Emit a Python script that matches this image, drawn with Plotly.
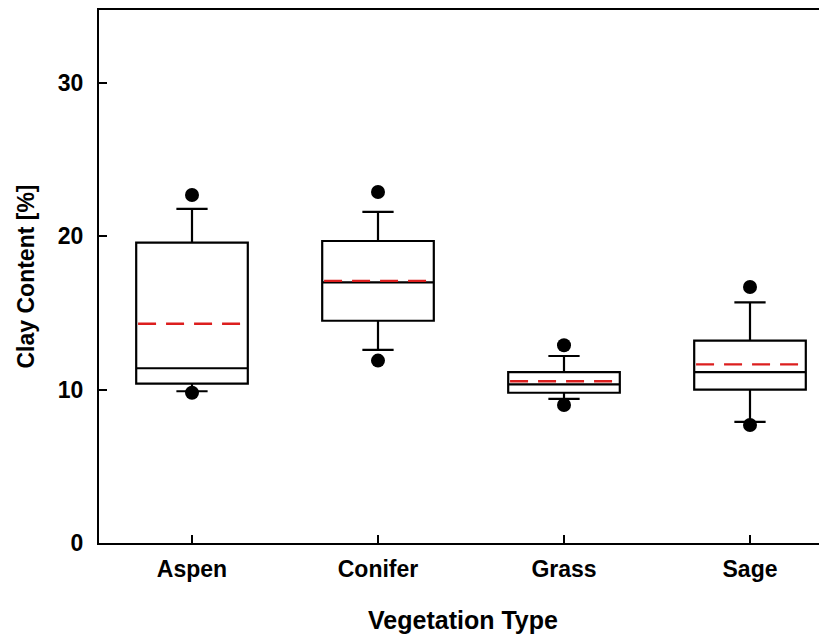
import plotly.graph_objects as go

categories = ["Aspen", "Conifer", "Grass", "Sage"]
q1 = [10.4, 14.5, 9.8, 10.0]
median = [11.4, 17.0, 10.35, 11.15]
q3 = [19.6, 19.7, 11.15, 13.2]
lower_whisker = [9.9, 12.6, 9.4, 7.9]
upper_whisker = [21.8, 21.6, 12.2, 15.7]
mean = [14.3, 17.1, 10.55, 11.65]
outlier_high = [22.7, 22.9, 12.9, 16.7]
outlier_low = [9.8, 11.9, 9.0, 7.7]
y_ticks = [0, 10, 20, 30]

xpos = list(range(len(categories)))
box_w = 0.6

fig = go.Figure()
fig.add_trace(go.Box(
    x=xpos, q1=q1, median=median, q3=q3,
    lowerfence=lower_whisker, upperfence=upper_whisker,
    width=box_w, whiskerwidth=0.28, boxpoints=False,
    line=dict(color="black", width=2.2), fillcolor="white",
    showlegend=False, hoverinfo="skip",
))

mx, my = [], []
for i, m in zip(xpos, mean):
    mx += [i - box_w / 2 + 0.01, i + box_w / 2 - 0.01, None]
    my += [m, m, None]
fig.add_trace(go.Scatter(
    x=mx, y=my, mode="lines",
    line=dict(color="rgb(220,30,30)", width=2.4, dash="18px,10px"),
    showlegend=False, hoverinfo="skip",
))

fig.add_trace(go.Scatter(
    x=xpos + xpos, y=outlier_high + outlier_low, mode="markers",
    marker=dict(color="black", size=14),
    showlegend=False, hoverinfo="skip",
))

font = dict(family="Liberation Sans, Arial, sans-serif", color="black")
fig.update_layout(
    width=827, height=635,
    margin=dict(l=91, r=8, t=2, b=100, autoexpand=False),
    paper_bgcolor="white", plot_bgcolor="white",
    font=font,
    xaxis=dict(
        range=[-0.5, 3.414], tickvals=xpos, ticktext=[f"<b>{c}</b>" for c in categories],
        showline=True, linecolor="black", linewidth=2, mirror=True,
        ticks="inside", ticklen=8, tickwidth=2, tickcolor="black",
        showgrid=False, zeroline=False, automargin=False,
        tickfont=dict(size=23), ticklabelstandoff=4,
        title=dict(text="<b>Vegetation Type</b>", font=dict(size=25), standoff=31),
    ),
    yaxis=dict(
        range=[0, 34.77], tickvals=y_ticks, ticktext=[f"<b>{t}</b>" for t in y_ticks],
        showline=True, linecolor="black", linewidth=2, mirror=False,
        ticks="inside", ticklen=8, tickwidth=2, tickcolor="black",
        showgrid=False, zeroline=False, automargin=False,
        tickfont=dict(size=23), ticklabelstandoff=9,
        title=dict(text="<b>Clay Content [%]</b>", font=dict(size=23), standoff=17),
    ),
)

fig.write_html("out.html")
